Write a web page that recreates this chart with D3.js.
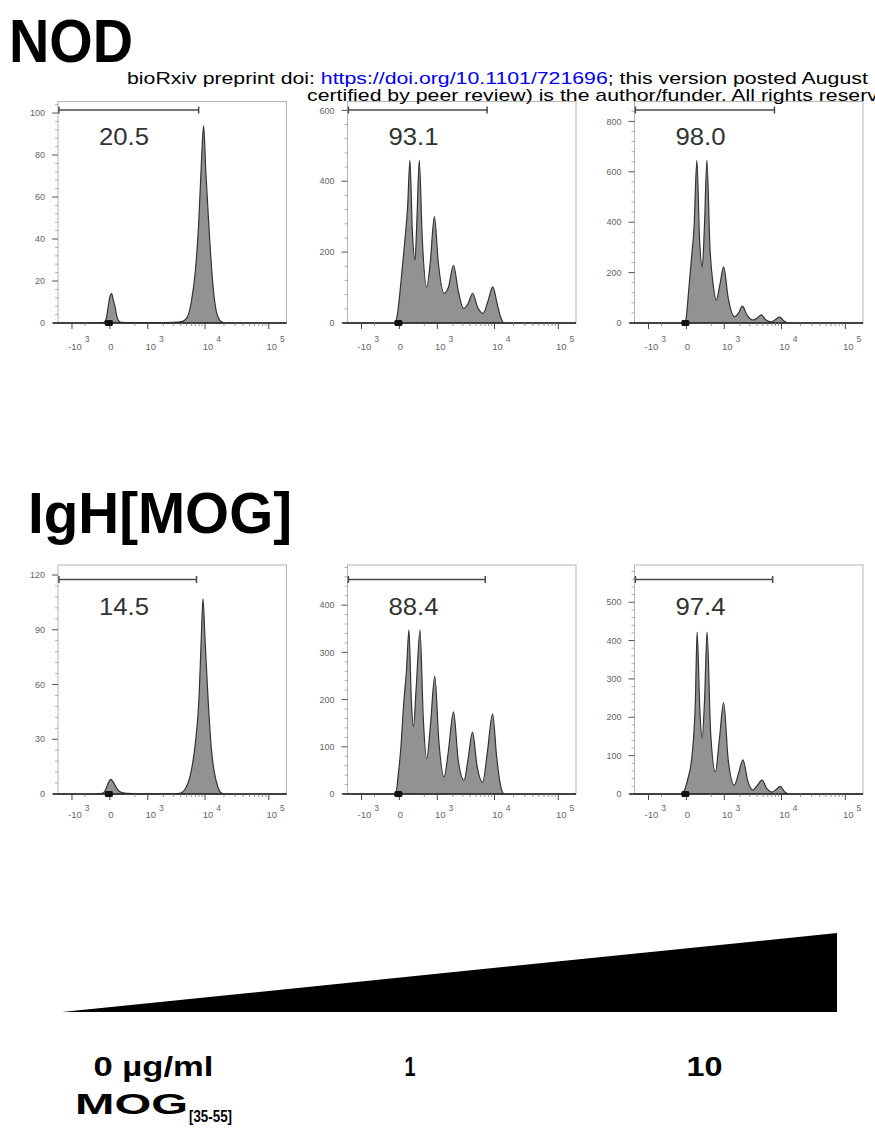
<!DOCTYPE html>
<html>
<head>
<meta charset="utf-8">
<script src="https://cdn.jsdelivr.net/npm/d3@7"></script>
<style>
  body { margin: 0; background: #fff; }
</style>
</head>
<body>
<div class="container"></div>
<script>
// ---- data ----
const strains = ["NOD", "IgH[MOG]"];
const doses = ["0 µg/ml", "1", "10"];
const gatePercent = ["20.5", "93.1", "98.0", "14.5", "88.4", "97.4"];
const gateLower = [-1800, -1800, -1800, -1800, -1800, -1800];
const gateUpper = [7900, 7600, 7700, 7300, 7100, 7200];
const yMax = [105.5, 625, 879, 125.5, 485, 597];
const yTicks = [
  [0, 20, 40, 60, 80, 100],
  [0, 200, 400, 600],
  [0, 200, 400, 600, 800],
  [0, 30, 60, 90, 120],
  [0, 100, 200, 300, 400],
  [0, 100, 200, 300, 400, 500],
];
const xDomain = [-1870, 188000];
const xTickValues = [-1000, 0, 1000, 10000, 100000];
const xTickLabels = [["-10", "3"], ["0", ""], ["10", "3"], ["10", "4"], ["10", "5"]];
const xMinorTicks = [-500, 500, 2000, 3000, 4000, 5000, 6000, 7000, 8000, 9000,
  20000, 30000, 40000, 50000, 60000, 70000, 80000, 90000];

// [fluorescence, count]
const histNOD0 = [[-1870,0],[-400,0],[-90,0.2],[-70,0.6],[-45,2.5],[-21,8],[0,12.5],[22,14],[45,11],[69,8],[100,3],[130,1],[170,0.3],[400,0.2],[1500,0.2],[3000,0.3],[4300,0.8],[5200,3],[6000,10],[7000,25],[7900,47],[8800,78],[9500,94],[10300,72],[11500,47],[12800,25],[14300,10],[16000,3],[18500,0.5],[22000,0],[188000,0]];
const histNOD1 = [[-1870,0],[-300,0],[-61,0],[-25,25],[6,84],[40,160],[76,234],[120,330],[159,459],[205,260],[260,177],[300,280],[361,459],[440,240],[577,102],[700,170],[866,300],[1050,170],[1372,84],[1650,100],[2055,163],[2500,90],[3094,41],[3700,55],[4403,84],[5300,45],[6538,27],[7800,60],[9380,102],[11000,55],[12470,18],[14070,0],[188000,0]];
const histNOD10 = [[-1870,0],[-300,0],[-60,0],[-10,10],[30,130],[67,250],[110,380],[158,645],[210,330],[267,223],[315,380],[376,645],[460,300],[560,150],[666,91],[800,150],[968,223],[1200,100],[1600,25],[1900,40],[2215,67],[2700,30],[3392,12],[4000,20],[4697,32],[5600,12],[6860,5],[8000,14],[9350,23],[11000,8],[12680,0],[188000,0]];
const histIgH0 = [[-1870,0],[-400,0],[-110,0.3],[-78,1],[-40,4],[-10,7],[13,8],[45,6.5],[90,3.5],[150,1.2],[284,0.3],[600,0.1],[2000,0.1],[3867,0.4],[4800,3],[5820,10.7],[7000,28],[8020,53],[8700,85],[9280,107],[10000,85],[11160,53],[12600,25],[14280,10.7],[16000,4],[18190,0.5],[22000,0],[188000,0]];
const histIgH1 = [[-1870,0],[-300,0],[-50,0],[-15,40],[16,92],[62,199],[100,260],[142,347],[185,200],[227,142],[290,230],[379,347],[470,160],[577,75],[700,140],[883,249],[1080,110],[1368,36],[1650,90],[2055,174],[2500,70],[3158,29],[3650,70],[4383,131],[5200,60],[6430,25],[7700,90],[9310,170],[10800,80],[12330,22],[14280,0],[188000,0]];
const histIgH10 = [[-1870,0],[-300,0],[-57,0],[-20,12],[9,32],[79,102],[132,242],[163,422],[215,220],[263,145],[320,250],[381,422],[480,160],[632,58],[780,140],[968,238],[1200,90],[1578,23],[1900,55],[2275,89],[2750,35],[3400,10],[4000,22],[4815,36],[5800,14],[7015,5],[8200,12],[9540,20],[11200,6],[12920,0],[188000,0]];
const histograms = [histNOD0, histNOD1, histNOD10, histIgH0, histIgH1, histIgH10];

// ---- layout ----
const width = 875;
const height = 1129;
const colLeft = [58, 347.5, 634.5];
const colWidth = 228.5;
const rows = [
  { top: 101.5, bottom: 323, gateDy: 8.5, labelDy: 43.5, tickDy: 27, supDy: 19, title: 62 },
  { top: 565, bottom: 794, gateDy: 14.5, labelDy: 50, tickDy: 24, supDy: 16.5, title: 533 },
];
const font = "'Liberation Sans', Arial, Helvetica, sans-serif";

const svg = d3
  .select(".container")
  .append("svg")
  .attr("width", width)
  .attr("height", height)
  .attr("viewBox", [0, 0, width, height])
  .style("display", "block")
  .style("font-family", font);

svg.append("rect").attr("width", width).attr("height", height).attr("fill", "#fff");

// strain titles
svg.append("text")
  .attr("x", 9).attr("y", rows[0].title)
  .attr("font-size", 61).attr("font-weight", "bold")
  .attr("textLength", 124).attr("lengthAdjust", "spacingAndGlyphs")
  .text(strains[0]);
svg.append("text")
  .attr("x", 28).attr("y", rows[1].title)
  .attr("font-size", 58).attr("font-weight", "bold")
  .attr("textLength", 264).attr("lengthAdjust", "spacingAndGlyphs")
  .text(strains[1]);

function drawPanel(i) {
  const row = rows[Math.floor(i / 3)];
  const left = colLeft[i % 3];
  const right = left + colWidth;

  const x = d3.scaleSymlog().constant(350).domain(xDomain).range([left, right]);
  const y = d3.scaleLinear().domain([0, yMax[i]]).range([row.bottom, row.top]);

  const g = svg.append("g");
  const clipId = "clip" + i;
  g.append("clipPath").attr("id", clipId)
    .append("rect")
    .attr("x", left).attr("y", row.top)
    .attr("width", colWidth).attr("height", row.bottom - row.top + 1);

  // frame
  g.append("rect")
    .attr("x", left).attr("y", row.top)
    .attr("width", colWidth).attr("height", row.bottom - row.top)
    .attr("fill", "none").attr("stroke", "#b5b5b5").attr("stroke-width", 1);

  // histogram
  const area = d3.area()
    .x((d) => x(d[0]))
    .y0(y(0))
    .y1((d) => y(d[1]))
    .curve(d3.curveMonotoneX);
  g.append("path")
    .datum(histograms[i])
    .attr("clip-path", `url(#${clipId})`)
    .attr("d", area)
    .attr("fill", "#929292")
    .attr("stroke", "#333")
    .attr("stroke-width", 1.2)
    .attr("stroke-linejoin", "round");

  // y axis ticks
  const step = yTicks[i][1] - yTicks[i][0];
  const minor = d3.range(step / 5, yMax[i], step / 5).filter((v) => !yTicks[i].includes(Math.round(v)));
  g.selectAll(".ymin").data(minor).join("line")
    .attr("x1", left - 3).attr("x2", left)
    .attr("y1", (d) => y(d)).attr("y2", (d) => y(d))
    .attr("stroke", "#999").attr("stroke-width", 0.8);
  g.selectAll(".ymaj").data(yTicks[i]).join("line")
    .attr("x1", left - 6).attr("x2", left)
    .attr("y1", (d) => y(d)).attr("y2", (d) => y(d))
    .attr("stroke", "#555").attr("stroke-width", 1);
  g.selectAll(".ylab").data(yTicks[i]).join("text")
    .attr("x", left - 13).attr("y", (d) => y(d))
    .attr("dy", "0.35em")
    .attr("text-anchor", "end")
    .attr("font-size", 9).attr("fill", "#666")
    .text((d) => d);

  // x axis
  g.append("line")
    .attr("x1", left - 5).attr("x2", right)
    .attr("y1", row.bottom).attr("y2", row.bottom)
    .attr("stroke", "#2a2a2a").attr("stroke-width", 1.6);
  g.selectAll(".xmin").data(xMinorTicks).join("line")
    .attr("x1", (d) => x(d)).attr("x2", (d) => x(d))
    .attr("y1", row.bottom).attr("y2", row.bottom + 3)
    .attr("stroke", "#777").attr("stroke-width", 0.8);
  g.selectAll(".xmaj").data(xTickValues).join("line")
    .attr("x1", (d) => x(d)).attr("x2", (d) => x(d))
    .attr("y1", row.bottom).attr("y2", row.bottom + 6)
    .attr("stroke", "#444").attr("stroke-width", 1);

  xTickValues.forEach((v, k) => {
    const [base, sup] = xTickLabels[k];
    const tx = x(v);
    const t = g.append("text")
      .attr("x", tx + (sup ? 3 : 1)).attr("y", row.bottom + row.tickDy)
      .attr("text-anchor", "middle")
      .attr("font-size", 9.5).attr("fill", "#666")
      .text(base);
    if (sup) {
      const half = t.node().getComputedTextLength() / 2;
      g.append("text")
        .attr("x", tx + 3 + half + 3).attr("y", row.bottom + row.supDy)
        .attr("font-size", 8.5).attr("fill", "#666")
        .text(sup);
    }
  });

  // zero marker
  g.append("rect")
    .attr("x", x(0) - 5).attr("y", row.bottom - 3)
    .attr("width", 8).attr("height", 6)
    .attr("rx", 1.5)
    .attr("fill", "#111");

  // gate
  const gy = row.top + row.gateDy;
  const gx1 = x(gateLower[i]);
  const gx2 = x(gateUpper[i]);
  const gate = g.append("g").attr("stroke", "#4a4a4a").attr("stroke-width", 1.5);
  gate.append("line").attr("x1", gx1).attr("x2", gx2).attr("y1", gy).attr("y2", gy);
  gate.append("line").attr("x1", gx1).attr("x2", gx1).attr("y1", gy - 3.5).attr("y2", gy + 3.5);
  gate.append("line").attr("x1", gx2).attr("x2", gx2).attr("y1", gy - 3.5).attr("y2", gy + 3.5);

  g.append("text")
    .attr("x", left + 41).attr("y", row.top + row.labelDy)
    .attr("font-size", 23).attr("fill", "#333")
    .attr("textLength", 50).attr("lengthAdjust", "spacingAndGlyphs")
    .text(gatePercent[i]);
}

d3.range(6).forEach(drawPanel);

// bioRxiv watermark lines (run off the right edge as in the source page)
const wm1 = svg.append("text")
  .attr("transform", "translate(127,84) scale(1.33,1)")
  .attr("font-size", 16).attr("fill", "#000");
wm1.append("tspan").text("bioRxiv preprint doi: ");
wm1.append("tspan").attr("fill", "#0000ee").text("https://doi.org/10.1101/721696");
wm1.append("tspan").text("; this version posted August");
svg.append("text")
  .attr("transform", "translate(307,101) scale(1.33,1)")
  .attr("font-size", 16).attr("fill", "#000")
  .text("certified by peer review) is the author/funder. All rights reserv");

// dose wedge
const wedgeX = d3.scaleLinear().domain([0, 1]).range([62, 837]);
const wedgeY = d3.scaleLinear().domain([0, 1]).range([1012, 933]);
const wedgeSteps = [0, 1];
const wedgeLine = d3.line();
svg.append("path")
  .attr("d", wedgeLine([
    [wedgeX(wedgeSteps[0]), wedgeY(0)],
    [wedgeX(wedgeSteps[1]), wedgeY(1)],
    [wedgeX(wedgeSteps[1]), wedgeY(0)],
  ]) + "Z")
  .attr("fill", "#000");

const doseCenter = [0.118, 0.449, 0.829];
const doseWidth = [120, 11, 36];
doses.forEach((d, k) => {
  svg.append("text")
    .attr("x", wedgeX(doseCenter[k]) - doseWidth[k] / 2)
    .attr("y", 1076)
    .attr("font-size", 28).attr("font-weight", "bold")
    .attr("textLength", doseWidth[k]).attr("lengthAdjust", "spacingAndGlyphs")
    .text(d);
});
svg.append("text")
  .attr("x", 75).attr("y", 1114)
  .attr("font-size", 29).attr("font-weight", "bold")
  .attr("textLength", 113).attr("lengthAdjust", "spacingAndGlyphs")
  .text("MOG");
svg.append("text")
  .attr("x", 189).attr("y", 1122)
  .attr("font-size", 17).attr("font-weight", "bold")
  .attr("textLength", 43).attr("lengthAdjust", "spacingAndGlyphs")
  .text("[35-55]");
</script>
</body>
</html>
